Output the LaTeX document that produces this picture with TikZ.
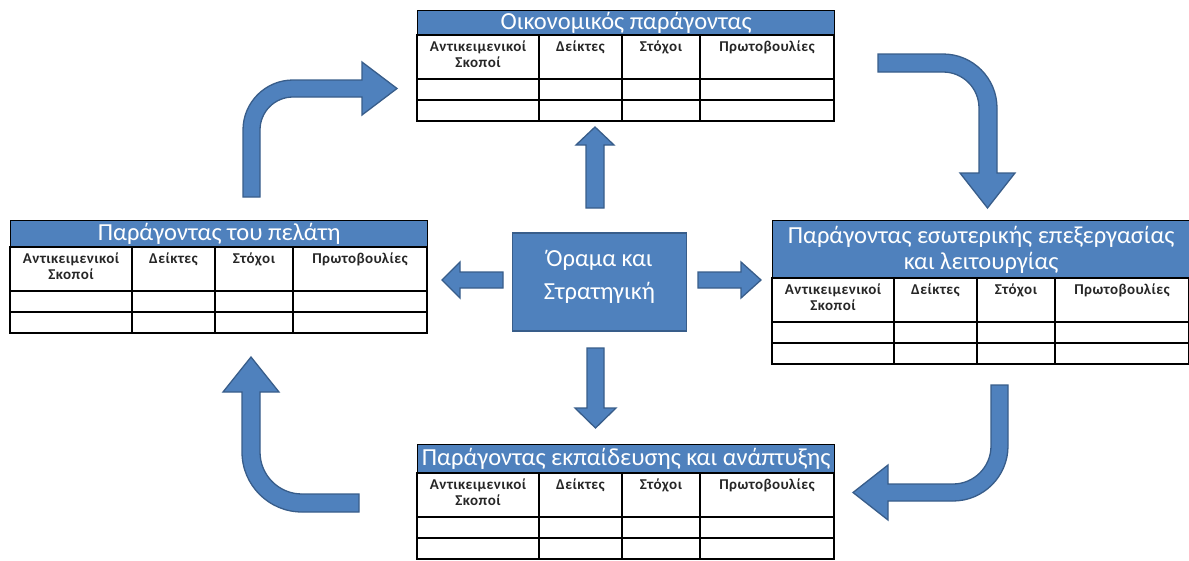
\documentclass[tikz,border=0pt]{standalone}
\usepackage{fontspec}
\setmainfont{Carlito}
\definecolor{officeblue}{HTML}{4F81BD}
\definecolor{officeedge}{HTML}{385D8A}
\tikzset{
  blockarrow/.style={fill=officeblue, draw=officeedge, line width=1.3pt, line join=miter},
  visionbox/.style={fill=officeblue, draw=officeedge, line width=1.3pt,
    minimum width=174pt, minimum height=98pt, inner sep=0pt},
  visiontext/.style={text=white, inner sep=0pt,
    font=\fontsize{24.5}{33}\selectfont, align=center},
  band/.style={fill=officeblue, draw=black, line width=1.3pt, inner sep=0pt,
    minimum width=417pt, anchor=north west, text=white,
    font=\fontsize{24.5}{26}\selectfont, align=center},
  tablegrid/.style={draw=black, line width=1.1pt},
  celltext/.style={anchor=north, inner sep=0pt, align=center, text=black!85,
    font=\fontsize{15}{16}\selectfont\bfseries\addfontfeature{LetterSpace=3}},
}
% A factor table: title band plus a header row and two empty rows.
% #1 name, #2 left x, #3 top y, #4 band height, #5 title
\newcommand\facttable[5]{%
  \node[band, minimum height=#4pt] (#1) at (#2,#3) {#5};
  \begin{scope}[shift={(#2,{#3+#4})}]
    \draw[tablegrid] (0,0) rectangle (417,86);
    \draw[tablegrid] (0,44) -- (417,44) (0,65) -- (417,65)
      (122,0) -- (122,86) (205,0) -- (205,86) (283,0) -- (283,86);
    \node[celltext] (#1-obj) at (61,6) {Αντικειμενικοί\\Σκοποί};
    \node[celltext] (#1-ind) at (163.5,6) {Δείκτες};
    \node[celltext] (#1-tgt) at (244,6) {Στόχοι};
    \node[celltext] (#1-ini) at (350,6) {Πρωτοβουλίες};
  \end{scope}%
}
\begin{document}
\begin{tikzpicture}[x=1pt,y=-1pt]
  \useasboundingbox (0,0) rectangle (1189,560);

  % the four perspectives
  \facttable{finance}{417}{10}{25}{Οικονομικός παράγοντας}
  \facttable{customer}{10}{220}{27}{Παράγοντας του πελάτη}
  \facttable{process}{772}{220}{58}{Παράγοντας εσωτερικής επεξεργασίας\\και λειτουργίας}
  \facttable{learning}{417}{444}{29}{Παράγοντας εκπαίδευσης και ανάπτυξης}

  % vision and strategy in the middle
  \node[visionbox] (vision) at (599.5,282) {};
  \node[visiontext] (vision-text) at ([yshift=5pt]vision.center) {Όραμα και\\Στρατηγική};

  % straight arrows out of the centre
  \draw[blockarrow] (586,208) -- (586,145) -- (576,145) -- (595,127)
    -- (614,145) -- (604,145) -- (604,208) -- cycle;
  \draw[blockarrow] (587,348) -- (587,408) -- (575,408) -- (595.5,428)
    -- (616,408) -- (604,408) -- (604,348) -- cycle;
  \draw[blockarrow] (698,272) -- (741,272) -- (741,262) -- (761,280)
    -- (741,298) -- (741,288) -- (698,288) -- cycle;
  \draw[blockarrow] (503,272) -- (460,272) -- (460,262) -- (442,280)
    -- (460,298) -- (460,288) -- (503,288) -- cycle;

  % bent arrows running round the cycle
  \draw[blockarrow] (243,197) -- (243,130) arc[start angle=180,end angle=270,radius=50]
    -- (362,80) -- (362,62) -- (397,88.5) -- (362,115) -- (362,97)
    -- (293,97) arc[start angle=270,end angle=180,radius=33] -- (260,197) -- cycle;
  \draw[blockarrow] (878,54) -- (943,54) arc[start angle=270,end angle=360,radius=54]
    -- (997,173) -- (1015,173) -- (987.5,208) -- (960,173) -- (979,173)
    -- (979,108) arc[start angle=0,end angle=-90,radius=36] -- (878,72) -- cycle;
  \draw[blockarrow] (991,385) -- (1008,385) -- (1008,446) arc[start angle=0,end angle=90,radius=55]
    -- (888,501) -- (888,520) -- (853,492.5) -- (888,465) -- (888,484)
    -- (953,484) arc[start angle=90,end angle=0,radius=38] -- cycle;
  \draw[blockarrow] (359,512) -- (302,512) arc[start angle=90,end angle=180,radius=60]
    -- (242,392) -- (223,392) -- (251,357) -- (279,392) -- (260,392)
    -- (260,452) arc[start angle=180,end angle=90,radius=42] -- (359,494) -- cycle;
\end{tikzpicture}
\end{document}
